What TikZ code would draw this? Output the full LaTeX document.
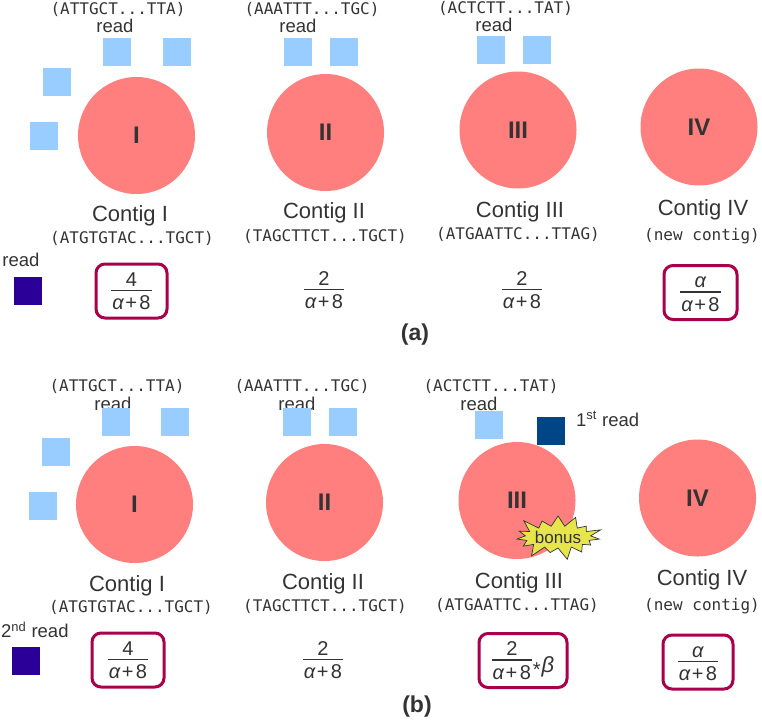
\documentclass[tikz,border=0pt]{standalone}
\usepackage{fontspec}
\setmainfont{Liberation Sans}
\setmonofont{DejaVu Sans Mono}
\usetikzlibrary{shapes.symbols}
\definecolor{txt}{HTML}{333333}
\definecolor{contigc}{HTML}{FF7F7F}
\definecolor{readc}{HTML}{99CCFF}
\definecolor{indigoc}{HTML}{2A0099}
\definecolor{navyc}{HTML}{004586}
\definecolor{boxc}{HTML}{A8004A}
\definecolor{bonusc}{HTML}{E6E64C}
\newcommand{\myfr}[2]{\vbox{\offinterlineskip\halign{\hfil##\hfil\cr\vphantom{8}#1\cr\noalign{\kern3.5pt\hrule height 1.3pt\kern4.5pt}\kern1pt#2\kern1pt\cr}}}
\newcommand{\aden}{\textit{α}\kern1pt+\kern2.5pt8}
\tikzset{
 contig/.style={circle, fill=contigc, minimum size=117pt, inner sep=0pt, text=txt, font=\fontsize{24}{26}\selectfont\bfseries},
 rd/.style={fill=readc, minimum size=28pt, inner sep=0pt},
 newrd/.style={fill=indigoc, minimum size=28pt, inner sep=0pt},
 firstrd/.style={fill=navyc, minimum size=28pt, inner sep=0pt},
 lbl/.style={text=txt, font=\fontsize{22}{24}\selectfont, inner sep=0pt},
 seq/.style={text=txt, font=\fontsize{16}{19}\selectfont\ttfamily, inner sep=0pt},
 small/.style={text=txt, font=\fontsize{18.5}{20}\selectfont, inner sep=0pt},
 fracn/.style={text=txt, font=\fontsize{20}{22}\selectfont, inner sep=0pt},
 probbox/.style={draw=boxc, line width=3pt, rounded corners=9pt, minimum height=54pt, inner sep=0pt, text=txt, font=\fontsize{20}{22}\selectfont},
 panel/.style={text=txt, font=\fontsize{23}{25}\selectfont\bfseries, inner sep=0pt},
 bonusst/.style={starburst, starburst points=15, starburst point height=14pt, fill=bonusc, draw=txt, line width=0.7pt, minimum width=62pt, minimum height=50pt, inner sep=0pt, text=txt, font=\fontsize{17}{19}\selectfont},
}
\begin{document}
\begin{tikzpicture}[x=1pt,y=-1pt]
\useasboundingbox (0,0) rectangle (762,720);
% ---------------- panel (a) ----------------
\node[seq] (aseq1) at (118,9) {(ATTGCT...TTA)};
\node[small] (aread1) at (115,25.5) {read};
\node[rd] (ar11) at (117,52) {};
\node[rd] (ar12) at (177,52) {};
\node[rd] (ar13) at (57,82) {};
\node[rd] (ar14) at (44,136) {};
\node[contig] (ac1) at (136.5,135.5) {I};
\node[lbl] (acl1) at (130,216) {Contig I};
\node[seq] (acs1) at (132,238) {(ATGTGTAC...TGCT)};
\node[small] (anewl) at (21,260) {read};
\node[newrd] (anew) at (27.5,290.5) {};
\node[probbox, minimum width=71pt] (ap1) at (131.5,291) {\myfr{4}{\aden}};

\node[seq] (aseq2) at (312,9) {(AAATTT...TGC)};
\node[small] (aread2) at (298,25.5) {read};
\node[rd] (ar21) at (298,52) {};
\node[rd] (ar22) at (344,52) {};
\node[contig] (ac2) at (325.5,132.5) {II};
\node[lbl] (acl2) at (324,213) {Contig II};
\node[seq] (acs2) at (325,236) {(TAGCTTCT...TGCT)};
\node[fracn] (ap2) at (324,290) {\myfr{2}{\aden}};

\node[seq] (aseq3) at (505.5,8.5) {(ACTCTT...TAT)};
\node[small] (aread3) at (494,25) {read};
\node[rd] (ar31) at (491,50) {};
\node[rd] (ar32) at (536.5,50) {};
\node[contig] (ac3) at (518,130) {III};
\node[lbl] (acl3) at (520,212) {Contig III};
\node[seq] (acs3) at (518,234) {(ATGAATTC...TTAG)};
\node[fracn] (ap3) at (522,290) {\myfr{2}{\aden}};

\node[contig] (ac4) at (699,127) {IV};
\node[lbl] (acl4) at (703,210) {Contig IV};
\node[seq] (acs4) at (702,236) {(new contig)};
\node[probbox, minimum width=73pt] (ap4) at (700.5,292.5) {\myfr{\textit{α}}{\aden}};

\node[panel] (pa) at (415,335) {(a)};
% ---------------- panel (b) ----------------
\node[seq] (bseq1) at (117,386.5) {(ATTGCT...TTA)};
\node[small] (bread1) at (113,403.5) {read};
\node[rd] (br11) at (115.5,422) {};
\node[rd] (br12) at (175,422) {};
\node[rd] (br13) at (56,452) {};
\node[rd] (br14) at (42.5,506) {};
\node[contig] (bc1) at (134.5,504.5) {I};
\node[lbl] (bcl1) at (127,586) {Contig I};
\node[seq] (bcs1) at (131,607) {(ATGTGTAC...TGCT)};
\node[small, anchor=west] (bnewl) at (1,630) {2\textsuperscript{nd} read};
\node[newrd] (bnew) at (26,660.5) {};
\node[probbox, minimum width=72pt] (bp1) at (128,660) {\myfr{4}{\aden}};

\node[seq] (bseq2) at (302,386.5) {(AAATTT...TGC)};
\node[small] (bread2) at (297,403.5) {read};
\node[rd] (br21) at (297,422) {};
\node[rd] (br22) at (343,422) {};
\node[contig] (bc2) at (324.5,502.5) {II};
\node[lbl] (bcl2) at (323,584) {Contig II};
\node[seq] (bcs2) at (325,606) {(TAGCTTCT...TGCT)};
\node[fracn] (bp2) at (323,660) {\myfr{2}{\aden}};

\node[seq] (bseq3) at (491,386.5) {(ACTCTT...TAT)};
\node[small] (bread3) at (479,404) {read};
\node[rd] (br31) at (489,425) {};
\node[firstrd] (bfirst) at (551,430.5) {};
\node[small, anchor=west] (bfirstl) at (576,419) {1\textsuperscript{st} read};
\node[contig] (bc3) at (517,500.5) {III};
\node[bonusst] (bonus) at (558,537) {bonus};
\node[lbl] (bcl3) at (519,583) {Contig III};
\node[seq] (bcs3) at (517,605) {(ATGAATTC...TTAG)};
\node[probbox, minimum width=88pt] (bp3) at (523,660.5) {\myfr{2}{\aden}\kern1pt\raisebox{7pt}{\raisebox{-4pt}{*}\kern1pt{\fontsize{22}{24}\selectfont\textit{β}}}};

\node[contig] (bc4) at (697.5,498) {IV};
\node[lbl] (bcl4) at (702,580) {Contig IV};
\node[seq] (bcs4) at (702,606) {(new contig)};
\node[probbox, minimum width=70pt] (bp4) at (698,662) {\myfr{\textit{α}}{\aden}};

\node[panel] (pb) at (417,707) {(b)};
\end{tikzpicture}
\end{document}
